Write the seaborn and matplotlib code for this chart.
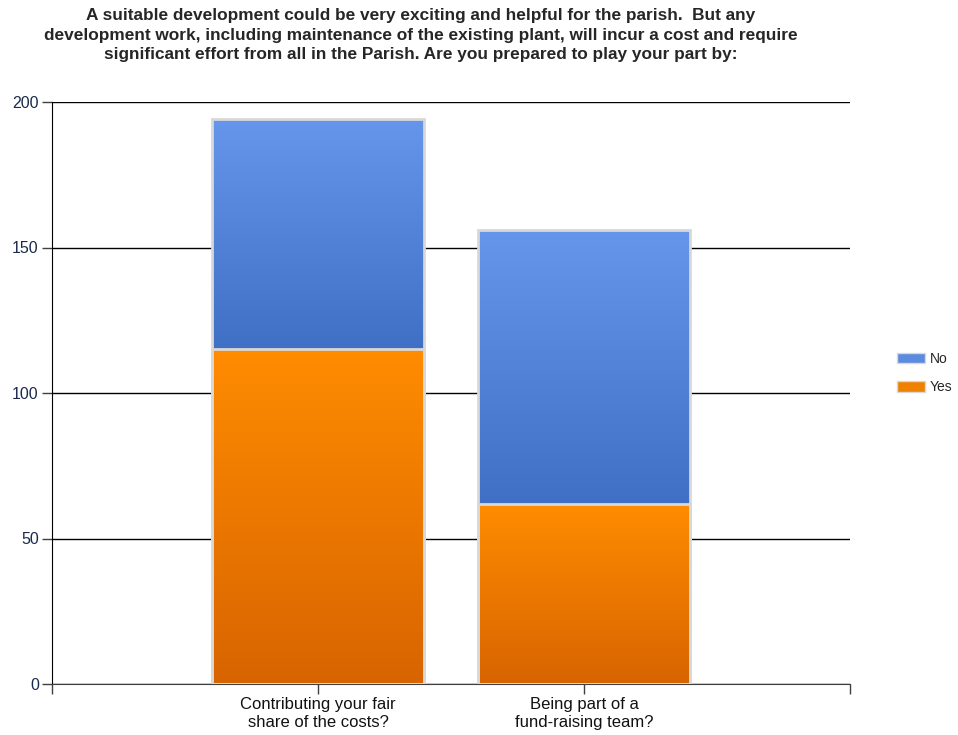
import numpy as np
import pandas as pd
import matplotlib
matplotlib.use("Agg")
import matplotlib.pyplot as plt
import matplotlib.patches as mpatches
from matplotlib.colors import LinearSegmentedColormap
import seaborn as sns

# data
categories = ["Contributing your fair\nshare of the costs?", "Being part of a\nfund-raising team?"]
yes_counts = [115, 62]
no_counts = [79, 94]
series = ["No", "Yes"]
title = ("A suitable development could be very exciting and helpful for the parish.  But any\n"
         "development work, including maintenance of the existing plant, will incur a cost and require\n"
         "significant effort from all in the Parish. Are you prepared to play your part by:")

df = pd.DataFrame({"question": categories, "Yes": yes_counts, "No": no_counts})
df["total"] = df["Yes"] + df["No"]

sns.set_style("white")
plt.rcParams["font.family"] = ["Liberation Sans", "DejaVu Sans"]

fig = plt.figure(figsize=(9.58, 7.35), dpi=100)
ax = fig.add_axes([52 / 958, 1 - 684 / 735, 798 / 958, 582 / 735])

edge = "#d8d8d8"
sns.barplot(data=df, x="question", y="total", color="#5b8bdf", width=0.8,
            edgecolor=edge, linewidth=2, ax=ax, zorder=3)
sns.barplot(data=df, x="question", y="Yes", color="#f08000", width=0.8,
            edgecolor=edge, linewidth=2, ax=ax, zorder=3)

blue_cmap = LinearSegmentedColormap.from_list("b", ["#4070c6", "#6696ec"])
orange_cmap = LinearSegmentedColormap.from_list("o", ["#d86400", "#ff8c00"])
grad = np.linspace(0, 1, 256).reshape(-1, 1)

n = len(categories)
for i, p in enumerate(ax.patches):
    x0, w = p.get_x(), p.get_width()
    p.set_facecolor("none")
    if i < n:
        lo, hi, cm = df["Yes"][i], df["total"][i], blue_cmap
    else:
        lo, hi, cm = 0, df["Yes"][i - n], orange_cmap
    im = ax.imshow(grad, cmap=cm, origin="lower", aspect="auto",
                   extent=(x0, x0 + w, lo, hi), zorder=2)
    im.set_clip_path(p)

ax.set_xlim(-1, 2)
ax.set_ylim(0, 200)
ax.set_yticks([0, 50, 100, 150, 200])
ax.set_xticks([-1, 2], minor=True)
ax.set_xlabel("")
ax.set_ylabel("")
ax.grid(axis="y", color="black", linewidth=1, zorder=0)
ax.set_axisbelow(True)
for s in ["top", "right"]:
    ax.spines[s].set_visible(False)
ax.spines["left"].set_color("black")
ax.spines["bottom"].set_color("#404040")
ax.tick_params(axis="y", which="major", direction="out", length=7, width=1,
               color="#404040", labelsize=11.5, labelcolor="#1a2a4a", pad=2.5, left=True)
ax.tick_params(axis="x", which="both", direction="out", length=7, width=1,
               color="#404040", labelsize=12, labelcolor="#111111", pad=2, bottom=True)
for lbl in ax.get_xticklabels():
    lbl.set_linespacing(1.3)

fig.text(421 / 958, 1 - 8 / 735, title, ha="center", va="top", fontsize=12.4,
         fontweight="bold", linespacing=1.38)

handles = [mpatches.Patch(facecolor="#5b8bdf", edgecolor=edge, label="No"),
           mpatches.Patch(facecolor="#f08000", edgecolor=edge, label="Yes")]
fig.legend(handles=handles, loc="center left", bbox_to_anchor=(0.9365, 0.4925),
           frameon=False, fontsize=10, handlelength=2.0, handleheight=0.75,
           handletextpad=0.35, labelspacing=1.05, borderpad=0, borderaxespad=0)

fig.savefig("out.png", dpi=100)
